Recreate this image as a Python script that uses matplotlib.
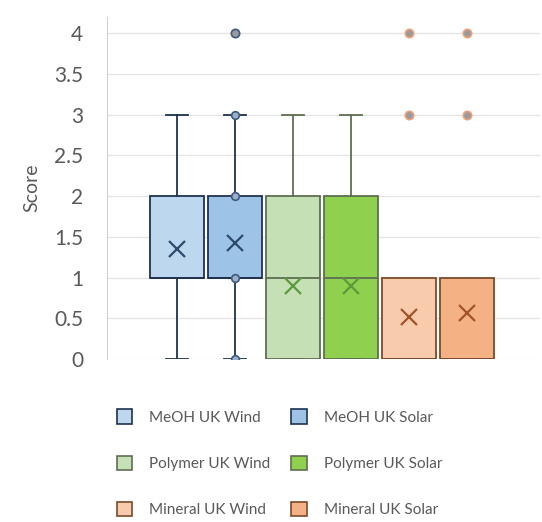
import matplotlib
matplotlib.use('Agg')
from matplotlib import pyplot as plt
from matplotlib.patches import Patch

plt.rcParams['font.family'] = ['Lato', 'DejaVu Sans']

names = ['MeOH UK Wind', 'MeOH UK Solar', 'Polymer UK Wind',
         'Polymer UK Solar', 'Mineral UK Wind', 'Mineral UK Solar']
q1 = [1, 1, 0, 0, 0, 0]
med = [1, 1, 1, 1, 0, 0]
q3 = [2, 2, 2, 2, 1, 1]
whislo = [0, 0, 0, 0, 0, 0]
whishi = [3, 3, 3, 3, 1, 1]
means = [1.35, 1.42, 0.9, 0.9, 0.52, 0.57]
outliers = [[], [4], [], [], [3, 4], [3, 4]]
inner_pts = [[], [0, 1, 2, 3], [], [], [], []]

fills = ['#bdd7ee', '#9dc3e6', '#c5e0b4', '#8fd14f', '#f8cbad', '#f4b183']
edges = ['#1f3250', '#1f3250', '#5e6e52', '#5e6e52', '#7a4a2a', '#7a4a2a']
mean_cols = ['#2e4a6b', '#2e4a6b', '#5c9a3c', '#5c9a3c', '#a3522a', '#a3522a']

fig = plt.figure(figsize=(5.42, 5.22), dpi=100)
ax = fig.add_axes([0.1974, 0.3123, 0.7989, 0.6551])

for i in range(6):
    stats = [dict(med=med[i], q1=q1[i], q3=q3[i], whislo=whislo[i],
                  whishi=whishi[i], mean=means[i], fliers=outliers[i])]
    cw = 0.38 if whishi[i] > q3[i] else 0.0
    ax.bxp(stats, positions=[i + 1], widths=0.92, patch_artist=True,
           showmeans=True, capwidths=[cw],
           boxprops=dict(facecolor=fills[i], edgecolor=edges[i], linewidth=1.3),
           whiskerprops=dict(color=edges[i], linewidth=1.3),
           capprops=dict(color=edges[i], linewidth=1.3),
           medianprops=dict(color=edges[i], linewidth=1.3),
           meanprops=dict(marker='x', markeredgecolor=mean_cols[i],
                          markersize=11, markeredgewidth=1.6),
           flierprops=dict(marker='o', markersize=6, markerfacecolor='#9a9a9a',
                           markeredgecolor='#3c5a80' if i < 2 else '#eba07a',
                           markeredgewidth=1.2))
    if inner_pts[i]:
        ax.plot([i + 1] * len(inner_pts[i]), inner_pts[i], 'o', ms=5.5,
                mfc='#9bb0c8', mec='#3c5a80', mew=1.2, zorder=5)

ax.set_xlim(-0.207, 7.26)
ax.set_ylim(0, 4.2)
ax.set_yticks([0, 0.5, 1, 1.5, 2, 2.5, 3, 3.5, 4])
ax.set_yticklabels(['0', '0.5', '1', '1.5', '2', '2.5', '3', '3.5', '4'])
ax.set_xticks([])
ax.yaxis.grid(True, color='#e3e3e3', linewidth=0.9)
ax.set_axisbelow(True)
for s in ['top', 'right', 'bottom']:
    ax.spines[s].set_visible(False)
ax.spines['left'].set_color('#d0d0d0')
ax.tick_params(axis='y', length=0, labelsize=15, colors='#595959', pad=17)
ax.set_ylabel('Score', fontsize=14, color='#595959', labelpad=10)

# row-major order like the original legend
order = [0, 2, 4, 1, 3, 5]
handles = [Patch(facecolor=fills[i], edgecolor=edges[i], linewidth=1.2) for i in order]
labels = [names[i] for i in order]
fig.legend(handles, labels, ncol=2, loc='upper left', bbox_to_anchor=(0.19, 0.242),
           frameon=False, fontsize=11, labelcolor='#595959',
           handlelength=1.0, handleheight=1.1, handletextpad=1.1,
           labelspacing=2.0, columnspacing=1.4)

fig.savefig('out.png', dpi=100)
